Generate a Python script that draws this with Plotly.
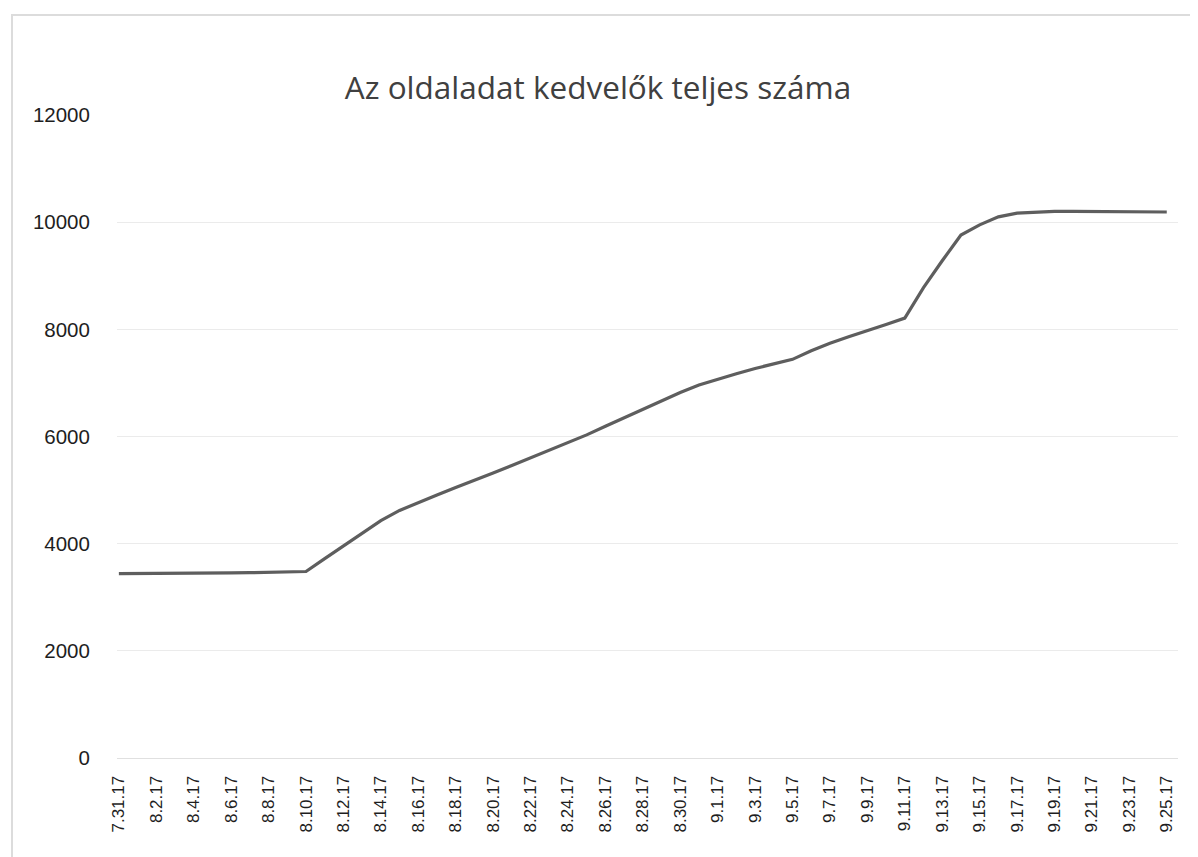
import plotly.graph_objects as go

dates = [
    "7.31.17",
    "8.1.17", "8.2.17", "8.3.17", "8.4.17", "8.5.17", "8.6.17", "8.7.17", "8.8.17", "8.9.17", "8.10.17",
    "8.11.17", "8.12.17", "8.13.17", "8.14.17", "8.15.17", "8.16.17", "8.17.17", "8.18.17", "8.19.17", "8.20.17",
    "8.21.17", "8.22.17", "8.23.17", "8.24.17", "8.25.17", "8.26.17", "8.27.17", "8.28.17", "8.29.17", "8.30.17",
    "8.31.17",
    "9.1.17", "9.2.17", "9.3.17", "9.4.17", "9.5.17", "9.6.17", "9.7.17", "9.8.17", "9.9.17", "9.10.17",
    "9.11.17", "9.12.17", "9.13.17", "9.14.17", "9.15.17", "9.16.17", "9.17.17", "9.18.17", "9.19.17", "9.20.17",
    "9.21.17", "9.22.17", "9.23.17", "9.24.17", "9.25.17",
]

likes = [
    3440,
    3445, 3448, 3450, 3452, 3454, 3456, 3458, 3462, 3468, 3480,
    3720, 3960, 4200, 4430, 4620, 4770, 4910, 5050, 5180, 5320,
    5460, 5600, 5750, 5890, 6030, 6190, 6350, 6510, 6670, 6820,
    6960,
    7070, 7170, 7270, 7360, 7440, 7600, 7740, 7860, 7970, 8090,
    8210, 8780, 9280, 9760, 9950, 10100, 10170, 10190, 10200, 10200,
    10200, 10200, 10200, 10200, 10190,
]

tick_labels = dates[::2]
y_ticks = [0, 2000, 4000, 6000, 8000, 10000, 12000]

title_text = "Az oldaladat kedvelők teljes száma"

# page body has an 8px margin, so the figure is 8px smaller and offset
OFF = 8
W, H = 1198 - OFF, 857 - OFF
L, R, T, B = 117 - OFF, 20, 115 - OFF, 99
pw, ph = W - L - R, H - T - B

fig = go.Figure()
fig.add_trace(go.Scatter(
    x=dates, y=likes, mode="lines",
    line=dict(color="#5e5e5e", width=3.2),
    showlegend=False,
))

def px_x(p):
    return (p - OFF - L) / pw

def px_y(p):
    return (H - B - (p - OFF)) / ph

fig.update_layout(
    width=W, height=H,
    margin=dict(l=L, r=R, t=T, b=B),
    paper_bgcolor="white", plot_bgcolor="white",
    title=dict(
        text=title_text, x=(598 - OFF) / W, xanchor="center",
        y=1 - (88 - OFF) / H, yanchor="middle",
        font=dict(family="Open Sans", size=31.5, color="#404040"),
    ),
    xaxis=dict(
        type="category",
        range=[-0.1, 56.6],
        tickmode="array", tickvals=tick_labels, ticktext=tick_labels,
        tickangle=-90,
        tickfont=dict(family="Liberation Sans", size=17, color="#1e1e1e"),
        showgrid=False, zeroline=False,
        showline=False,
        ticks="outside", ticklen=10, tickcolor="rgba(0,0,0,0)",
    ),
    yaxis=dict(
        range=[0, 12000],
        tickvals=y_ticks, ticktext=[str(v) for v in y_ticks],
        tickfont=dict(family="Liberation Sans", size=20.5, color="#1e1e1e"),
        showgrid=True, gridcolor="#ebebeb", gridwidth=1,
        zeroline=True, zerolinecolor="#e0e0e0", zerolinewidth=1,
        showline=False,
        ticks="outside", ticklen=22, tickcolor="rgba(0,0,0,0)",
    ),
    shapes=[
        dict(type="rect", xref="paper", yref="paper",
             x0=px_x(12), x1=px_x(1192), y0=px_y(870), y1=px_y(15),
             line=dict(color="#dcdcdc", width=2), fillcolor="rgba(0,0,0,0)",
             layer="below"),
    ],
)

fig.write_html("out.html")
